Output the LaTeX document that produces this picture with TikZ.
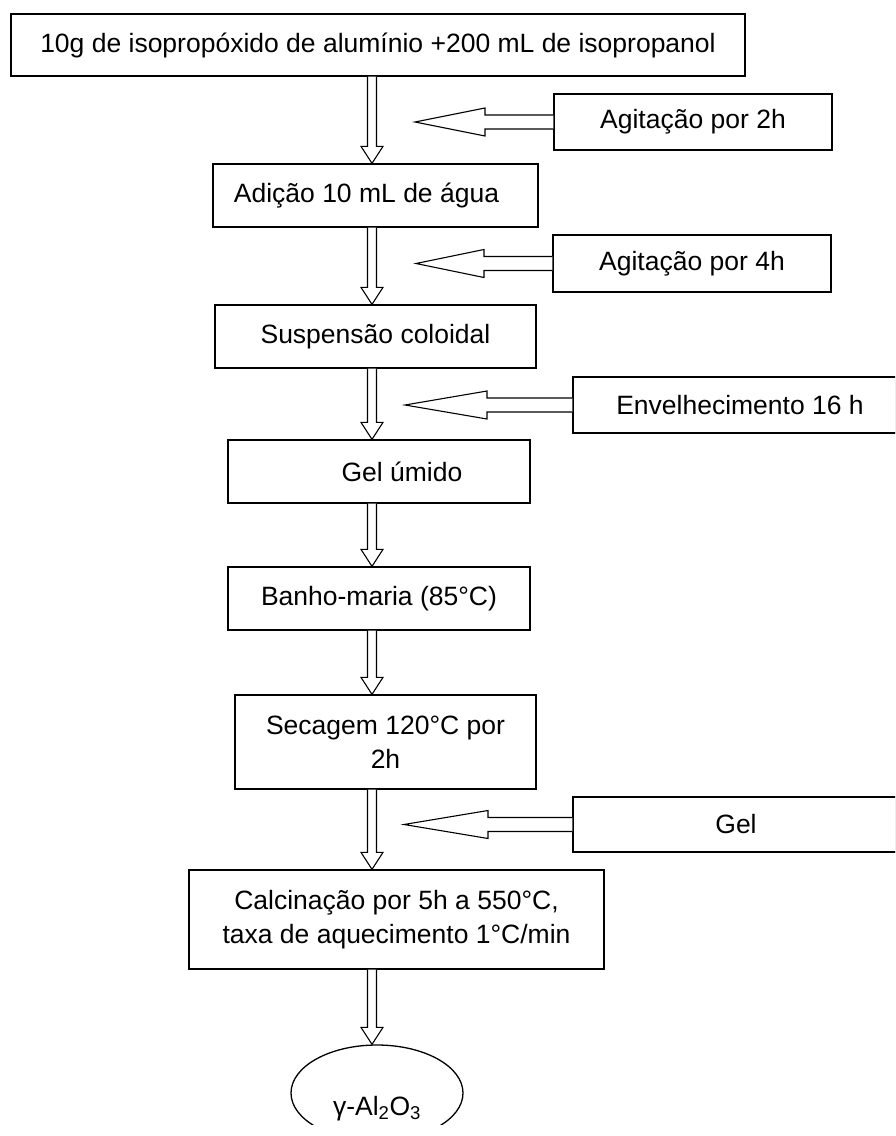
\documentclass[tikz,border=0pt]{standalone}
\usepackage{fontspec}
\setmainfont{Liberation Sans}
\usetikzlibrary{shapes,arrows,positioning,calc,shadows}

% hollow block arrow down the main column (x of spine)
\newcommand{\downflow}[2]{%
  \draw[flowarrow] let \p1=(#1.south -| spine), \p2=(#2.north -| spine) in
    ({\x1-4.5pt},\y1) -- ({\x1-4.5pt},{\y2+17pt}) -- ({\x1-11pt},{\y2+17pt})
    -- (\x1,\y2) -- ({\x1+11pt},{\y2+17pt}) -- ({\x1+4.5pt},{\y2+17pt})
    -- ({\x1+4.5pt},\y1);}
% hollow block arrow from a side box towards the column
\newcommand{\sideflow}[3]{%
  \draw[flowarrow] let \p1=(#1.west), \p2=(#2) in
    (\x1,{\y1+7pt}) -- ({\x2+#3},{\y1+7pt}) -- ({\x2+#3},{\y1+14pt})
    -- (\x2,\y1) -- ({\x2+#3},{\y1-14pt}) -- ({\x2+#3},{\y1-7pt})
    -- (\x1,{\y1-7pt});}

\begin{document}
\begin{tikzpicture}[x=1pt,y=-1pt,
  stage/.style={draw, line width=1.3pt, fill=white, inner sep=0pt,
    font=\fontsize{26.5}{34}\selectfont, align=center,
    drop shadow={shadow xshift=1.4pt, shadow yshift=-1.4pt, fill=black!60, opacity=1}},
  product/.style={draw, ellipse, line width=1.3pt, inner sep=0pt,
    font=\fontsize{26.5}{34}\selectfont},
  flowarrow/.style={line width=1.1pt, fill=white, line join=miter}]
\fill[white] (0,0) rectangle (895,1136);
\useasboundingbox (0,0) rectangle (895,1136);
\clip (0,0) rectangle (895,1124);

% main column
\coordinate (spine) at (372,0);
\node[stage, minimum width=734pt, minimum height=62pt] (start) at (378,45)
  {10g de isopropóxido de alumínio +200 mL de isopropanol};
\node[stage, minimum width=325pt, minimum height=63pt] (water) at (375.5,195.5)
  {\hspace*{-18pt}Adição 10 mL de água};
\node[stage, minimum width=321pt, minimum height=63pt] (sol) at (375.5,336.5)
  {Suspensão coloidal};
\node[stage, minimum width=302pt, minimum height=63pt] (wetgel) at (379,471.5)
  {\hspace*{46pt}Gel úmido};
\node[stage, minimum width=302pt, minimum height=63pt] (bath) at (379,598.5)
  {Banho-maria (85°C)};
\node[stage, minimum width=301pt, minimum height=94pt] (dry) at (385.5,742)
  {Secagem 120°C por\\2h};
\node[stage, minimum width=415pt, minimum height=99pt] (calc) at (396.5,919.5)
  {Calcinação por 5h a 550°C,\\taxa de aquecimento 1°C/min};
\node[product, minimum width=172pt, minimum height=96pt,
  text height=50pt, text depth=6pt] (alumina) at (377,1093)
  {γ-Al\textsubscript{2}O\textsubscript{3}};

% side conditions
\node[stage, minimum width=278pt, minimum height=56pt] (stir2) at (693,122)
  {Agitação por 2h};
\node[stage, minimum width=278pt, minimum height=57pt] (stir4) at (692,263.5)
  {Agitação por 4h};
\node[stage, minimum width=334pt, minimum height=56pt] (aging) at (740,405)
  {Envelhecimento 16 h};
\node[stage, minimum width=326pt, minimum height=55pt] (gel) at (736,824.5)
  {Gel};

\coordinate (tip1) at (415,122);
\coordinate (tip2) at (416,263.5);
\coordinate (tip3) at (405,405);
\coordinate (tip4) at (404,824.5);

% arrows
\downflow{start}{water}
\downflow{water}{sol}
\downflow{sol}{wetgel}
\downflow{wetgel}{bath}
\downflow{bath}{dry}
\downflow{dry}{calc}
\downflow{calc}{alumina}

\sideflow{stir2}{tip1}{70pt}
\sideflow{stir4}{tip2}{68pt}
\sideflow{aging}{tip3}{82pt}
\sideflow{gel}{tip4}{84pt}
\end{tikzpicture}
\end{document}
